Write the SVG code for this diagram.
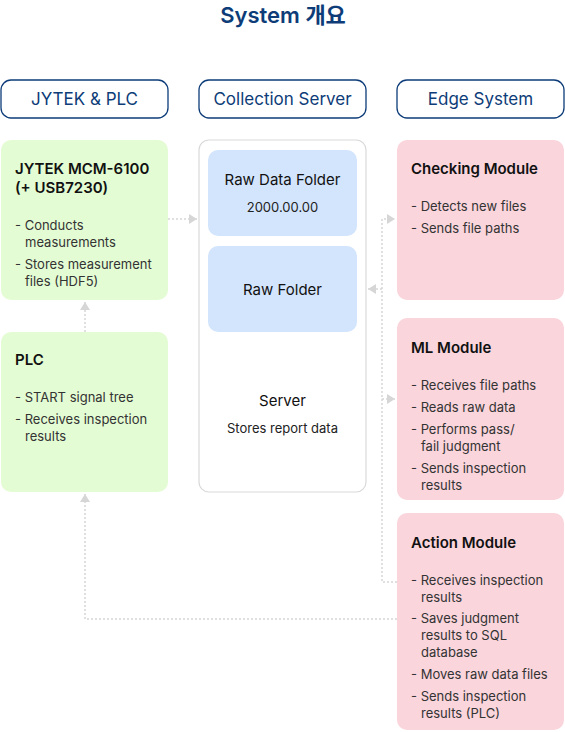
<svg xmlns="http://www.w3.org/2000/svg" width="565" height="732" viewBox="0 0 565 732">
<defs>
<marker id="ah" markerUnits="userSpaceOnUse" markerWidth="9" markerHeight="10" refX="8" refY="5" orient="auto">
<path d="M0,0 L8,5 L0,10 z" fill="#d6d6d6"/>
</marker>
<style>
.t{font-family:Inter,"Noto Sans","Liberation Sans","Noto Sans CJK KR",sans-serif}
.title{font-size:22px;font-weight:600;fill:#0d3c78}
.hdr{fill:#fff;stroke:#0d3c78;stroke-width:1.3}
.hdrt{font-size:17px;fill:#0d3c78;text-anchor:middle}
.green{fill:#e4fcd3}
.pink{fill:#fad5dc}
.blue{fill:#d3e5fc}
.srv{fill:#fff;stroke:#d9d9d9;stroke-width:1.2}
.nt{font-size:15px;font-weight:600;fill:#111}
.b{font-size:13px;fill:#333}
.ct{font-size:15px;fill:#111;text-anchor:middle}
.cs{font-size:13px;fill:#222;text-anchor:middle}
.c{fill:none;stroke:#d6d6d6;stroke-width:1.5;stroke-dasharray:2 2}
</style>
</defs>
<text class="t title" x="283" y="23" text-anchor="middle">System 개요</text>

<g id="hdr-jytek"><rect class="hdr" x="1" y="80" width="167" height="38" rx="10"/><text class="t hdrt" x="84.5" y="105">JYTEK &amp; PLC</text></g>
<g id="hdr-server"><rect class="hdr" x="199" y="80" width="167" height="38" rx="10"/><text class="t hdrt" x="282.5" y="105">Collection Server</text></g>
<g id="hdr-edge"><rect class="hdr" x="397" y="80" width="167" height="38" rx="10"/><text class="t hdrt" x="480.5" y="105">Edge System</text></g>

<g id="connectors">
<path class="c" d="M168,219 H197" marker-end="url(#ah)"/>
<path class="c" d="M85,332 V302" marker-end="url(#ah)"/>
<path class="c" d="M397,619 H85 V494" marker-end="url(#ah)"/>
<path class="c" d="M397,582 H382 V219 H395" marker-end="url(#ah)"/>
<path class="c" d="M382,399 H395" marker-end="url(#ah)"/>
<path class="c" d="M382,289 H368" marker-end="url(#ah)"/>
</g>

<g id="jytek">
<rect class="green" x="1" y="140" width="167" height="160" rx="10"/>
<text class="t nt" x="15" y="174">JYTEK MCM-6100</text>
<text class="t nt" x="15" y="193">(+ USB7230)</text>
<text class="t b" x="15" y="230">- Conducts</text>
<text class="t b" x="25" y="247">measurements</text>
<text class="t b" x="15" y="269">- Stores measurement</text>
<text class="t b" x="25" y="286">files (HDF5)</text>
</g>

<g id="plc">
<rect class="green" x="1" y="332" width="167" height="160" rx="10"/>
<text class="t nt" x="15" y="365">PLC</text>
<text class="t b" x="15" y="402">- START signal tree</text>
<text class="t b" x="15" y="424">- Receives inspection</text>
<text class="t b" x="25" y="441">results</text>
</g>

<g id="server">
<rect class="srv" x="199" y="140" width="167" height="352" rx="10"/>
<text class="t ct" x="282.5" y="406">Server</text>
<text class="t cs" x="282.5" y="433">Stores report data</text>
</g>
<g id="rawdata">
<rect class="blue" x="208" y="150" width="149" height="86" rx="10"/>
<text class="t ct" x="282.5" y="185">Raw Data Folder</text>
<text class="t cs" x="282.5" y="212">2000.00.00</text>
</g>
<g id="rawfolder">
<rect class="blue" x="208" y="246" width="149" height="86" rx="10"/>
<text class="t ct" x="282.5" y="295">Raw Folder</text>
</g>

<g id="checking">
<rect class="pink" x="397" y="140" width="167" height="160" rx="10"/>
<text class="t nt" x="411" y="174">Checking Module</text>
<text class="t b" x="411" y="211">- Detects new files</text>
<text class="t b" x="411" y="233">- Sends file paths</text>
</g>

<g id="ml">
<rect class="pink" x="397" y="318" width="167" height="182" rx="10"/>
<text class="t nt" x="411" y="353">ML Module</text>
<text class="t b" x="411" y="390">- Receives file paths</text>
<text class="t b" x="411" y="412">- Reads raw data</text>
<text class="t b" x="411" y="434">- Performs pass/</text>
<text class="t b" x="421" y="451">fail judgment</text>
<text class="t b" x="411" y="473">- Sends inspection</text>
<text class="t b" x="421" y="490">results</text>
</g>

<g id="action">
<rect class="pink" x="397" y="513" width="167" height="217" rx="10"/>
<text class="t nt" x="411" y="548">Action Module</text>
<text class="t b" x="411" y="585">- Receives inspection</text>
<text class="t b" x="421" y="602">results</text>
<text class="t b" x="411" y="623">- Saves judgment</text>
<text class="t b" x="421" y="640">results to SQL</text>
<text class="t b" x="421" y="657">database</text>
<text class="t b" x="411" y="679">- Moves raw data files</text>
<text class="t b" x="411" y="701">- Sends inspection</text>
<text class="t b" x="421" y="718">results (PLC)</text>
</g>
</svg>
